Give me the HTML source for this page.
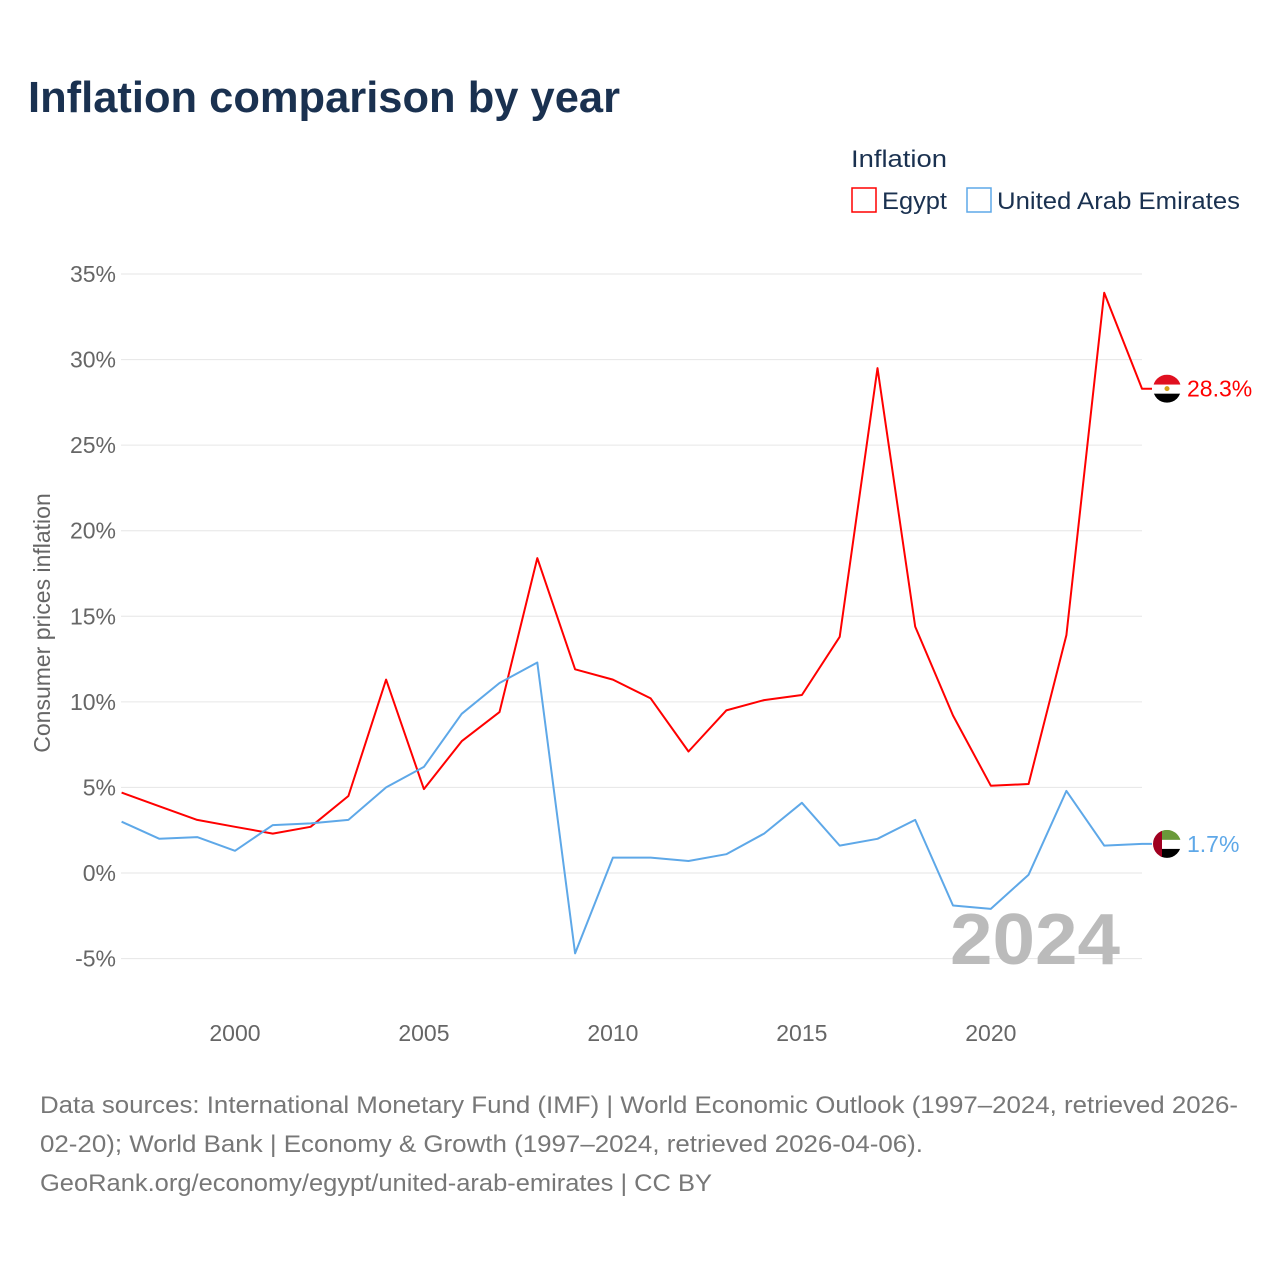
<!DOCTYPE html>
<html><head><meta charset="utf-8"><style>
body{margin:0;background:#fff;font-family:"Liberation Sans",sans-serif}
#wrap{position:relative;width:1280px;height:1280px;overflow:hidden}
</style></head><body>
<div id="wrap">
<svg id="chart" width="1280" height="1280">
<text x="28" y="112" font-size="44" font-weight="bold" fill="#1a3150" textLength="592" lengthAdjust="spacingAndGlyphs">Inflation comparison by year</text>
<text x="851" y="167" font-size="24" fill="#1a3150" textLength="96" lengthAdjust="spacingAndGlyphs">Inflation</text>
<g><rect x="852" y="188" width="24" height="24" fill="none" stroke="#f00" stroke-width="1.5"/><text x="882" y="209" font-size="24" fill="#1a3150" textLength="65" lengthAdjust="spacingAndGlyphs">Egypt</text></g>
<g><rect x="967" y="188" width="24" height="24" fill="none" stroke="#5ea8e8" stroke-width="1.5"/><text x="997" y="209" font-size="24" fill="#1a3150" textLength="243" lengthAdjust="spacingAndGlyphs">United Arab Emirates</text></g>
<g id="grid"></g>
<g id="yticks"></g>
<g id="xticks"></g>
<text transform="translate(50,623) rotate(-90)" text-anchor="middle" font-size="23" fill="#666">Consumer prices inflation</text>
<text x="1120" y="964" text-anchor="end" font-size="72" font-weight="bold" fill="#bbb" textLength="170" lengthAdjust="spacingAndGlyphs">2024</text>
<g id="series"></g>
<text x="40" y="1113" font-size="24" fill="#777" textLength="1198" lengthAdjust="spacingAndGlyphs">Data sources: International Monetary Fund (IMF) | World Economic Outlook (1997–2024, retrieved 2026-</text>
<text x="40" y="1152" font-size="24" fill="#777" textLength="883" lengthAdjust="spacingAndGlyphs">02-20); World Bank | Economy &amp; Growth (1997–2024, retrieved 2026-04-06).</text>
<text x="40" y="1191" font-size="24" fill="#777" textLength="672" lengthAdjust="spacingAndGlyphs">GeoRank.org/economy/egypt/united-arab-emirates | CC BY</text>
</svg></div>
<script>
const years=[1997,1998,1999,2000,2001,2002,2003,2004,2005,2006,2007,2008,2009,2010,2011,2012,2013,2014,2015,2016,2017,2018,2019,2020,2021,2022,2023,2024];
const egypt=[4.7,3.9,3.1,2.7,2.3,2.7,4.5,11.3,4.9,7.7,9.4,18.4,11.9,11.3,10.2,7.1,9.5,10.1,10.4,13.8,29.5,14.4,9.2,5.1,5.2,13.9,33.9,28.3];
const uae=[3.0,2.0,2.1,1.3,2.8,2.9,3.1,5.0,6.2,9.3,11.1,12.3,-4.7,0.9,0.9,0.7,1.1,2.3,4.1,1.6,2.0,3.1,-1.9,-2.1,-0.1,4.8,1.6,1.7];
const yTicks=[-5,0,5,10,15,20,25,30,35];
const xTicks=[2000,2005,2010,2015,2020];
const NS="http://www.w3.org/2000/svg";
const X=v=>121.6+(v-1997)*(1142-121.6)/27;
const Y=v=>873-v*(873-274)/35;
function mk(t,a,p){const e=document.createElementNS(NS,t);for(const k in a)e.setAttribute(k,a[k]);p.appendChild(e);return e;}
const grid=document.getElementById('grid'),yt=document.getElementById('yticks'),xt=document.getElementById('xticks'),ser=document.getElementById('series');
yTicks.forEach(v=>{
 const l=mk('line',{x1:121,x2:1142,y1:Y(v),y2:Y(v),stroke:'#e6e6e6','stroke-width':1},grid);
 
 
 const t=mk('text',{x:116,y:Y(v)+8,'text-anchor':'end','font-size':23,fill:'#666'},yt);
 t.textContent=v+'%';
 
 
});
xTicks.forEach(v=>{
 const t=mk('text',{x:X(v),y:1041,'text-anchor':'middle','font-size':23,fill:'#666'},xt);
 t.textContent=v;
 
 
});
function line(vals,col,name){
 let d=vals.map((v,i)=>(i?'L':'M')+X(years[i]).toFixed(1)+','+Y(v).toFixed(1)).join('');
 d+='L1152,'+Y(vals[vals.length-1]).toFixed(1);
 const p=mk('path',{d:d,fill:'none',stroke:col,'stroke-width':2,'stroke-linejoin':'round'},ser);
 
 
}
line(egypt,'#f00','egypt');
line(uae,'#5ea8e8','uae');
function flag(cy,kind,val,col,name){
 const g=mk('g',{},ser);
 
 
 const cid='c'+name;
 const cp=mk('clipPath',{id:cid},g);mk('circle',{cx:1167,cy:cy,r:14},cp);
 const f=mk('g',{'clip-path':'url(#'+cid+')'},g);
 if(kind==='eg'){
  mk('rect',{x:1153,y:cy-14,width:28,height:10,fill:'#e01020'},f);
  mk('rect',{x:1153,y:cy-4,width:28,height:9,fill:'#fff'},f);
  mk('rect',{x:1153,y:cy+5,width:28,height:10,fill:'#000'},f);
  mk('circle',{cx:1167,cy:cy,r:2.5,fill:'#d4a017'},f);
 }else{
  mk('rect',{x:1160,y:cy-14,width:22,height:10,fill:'#6a9a3a'},f);
  mk('rect',{x:1160,y:cy-4,width:22,height:9,fill:'#fff'},f);
  mk('rect',{x:1160,y:cy+5,width:22,height:10,fill:'#000'},f);
  mk('rect',{x:1153,y:cy-14,width:9,height:28,fill:'#a00020'},f);
 }
 const t=mk('text',{x:1187,y:cy+8,'font-size':23,fill:col},g);
 t.textContent=val.toFixed(1)+'%';
}
flag(Y(egypt[egypt.length-1]),'eg',egypt[egypt.length-1],'#f00','egypt');
flag(Y(uae[uae.length-1]),'ae',uae[uae.length-1],'#5ea8e8','uae');
</script>
</body></html>
